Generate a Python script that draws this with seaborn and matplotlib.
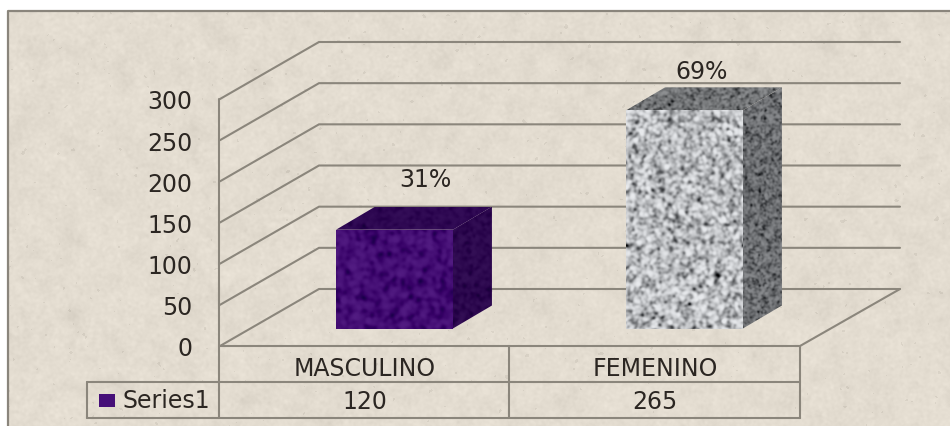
import numpy as np
import pandas as pd
import matplotlib
matplotlib.use("Agg")
import matplotlib.pyplot as plt
from matplotlib.patches import Polygon, Rectangle
from matplotlib.lines import Line2D
from matplotlib.transforms import IdentityTransform
import seaborn as sns

# Chart values
categories = ["MASCULINO", "FEMENINO"]
values = [120, 265]
percent_labels = ["31%", "69%"]
y_ticks = [0, 50, 100, 150, 200, 250, 300]
series_name = "Series1"

# Colours
PAPER = (228, 221, 209)
RULE = "#8b867c"
INK = "#2b2622"
PURPLE = "#460f78"

W, H, DPI = 950, 427, 100
sns.set_theme(style="white")
plt.rcParams["font.family"] = ["DejaVu Sans"]
rng = np.random.default_rng(11)


def smooth_noise(h, w, sigma):
    """Unit-variance gaussian-filtered noise, used for surface textures."""
    fy = np.fft.fftfreq(h)[:, None]
    fx = np.fft.fftfreq(w)[None, :]
    kernel = np.exp(-2 * (np.pi * sigma) ** 2 * (fx ** 2 + fy ** 2))
    n = np.fft.ifft2(np.fft.fft2(rng.standard_normal((h, w))) * kernel).real
    return n / n.std()


def shade(h, w, base, amp, sigma=1.5):
    n = smooth_noise(h, w, sigma)
    # A skewed response gives sparse dark flecks on a lighter ground
    n = (n - 0.16 * n ** 2)[..., None]
    return np.clip(np.array(base, float) + amp * n, 0, 255).astype(np.uint8)


fig = plt.figure(figsize=(W / DPI, H / DPI), dpi=DPI, facecolor="white")


def axes_at(left, bottom_from_top, width, height):
    return fig.add_axes([left / W, (H - bottom_from_top) / H, width / W, height / H])


# Paper background with a speckled surface
canvas = fig.add_axes([0, 0, 1, 1], zorder=0)
paper = shade(H, W, PAPER, 1.6, 6).astype(float)
paper = np.clip(paper + 1.8 * smooth_noise(H, W, 1.2)[..., None], 0, 255)
speck = smooth_noise(H, W, 1.3)
paper[speck > 2.6] -= 13
paper[:12, :] = 255
paper[:, :8] = 255
canvas.imshow(paper.astype(np.uint8), extent=(0, W, H, 0), aspect="auto", interpolation="bilinear")
canvas.set_xlim(0, W)
canvas.set_ylim(H, 0)
canvas.axis("off")
canvas.add_line(Line2D([8, 8, W], [H, 12, 12], color="#8a857c", lw=1.6))

# Wall axes carry the value scale and the category labels
wall = axes_at(220, 347, 580, 247)
wall.set_zorder(1)
wall.patch.set_alpha(0)
wall.set_xlim(-0.5, 1.5)
wall.set_ylim(0, 300)
wall.set_yticks(y_ticks, [str(t) for t in y_ticks], fontsize=17, color=INK)
wall.set_xticks(range(len(categories)), categories, fontsize=17, color=INK)
wall.tick_params(axis="y", length=0, pad=20)
wall.tick_params(axis="x", length=0, pad=7)
for side, spine in wall.spines.items():
    spine.set_visible(False)


def rule(xs, ys):
    canvas.add_line(Line2D(xs, ys, color=RULE, lw=1.5, solid_joinstyle="miter"))


# Gridlines run along the side wall and then across the back wall
WALL_DX, WALL_DY = 99, 57
for t in y_ticks:
    y = H - wall.transData.transform((0, t))[1]
    rule([220, 220 + WALL_DX, 900], [y, y - WALL_DY, y - WALL_DY])
y0 = H - wall.transData.transform((0, 0))[1]
y_top = H - wall.transData.transform((0, 300))[1]

# Floor edges and the data table below it
rule([219, 219], [y_top, 419])
rule([220, 800, 900], [y0, y0, y0 - WALL_DY])
rule([87, 800], [383, 383])
rule([87, 800], [419, 419])
rule([87, 87], [383, 419])
rule([509, 509], [y0, 419])
rule([800, 800], [y0, 419])

# Table contents
for x, v in zip([365, 655], values):
    canvas.text(x, 402, str(v), ha="center", va="center", fontsize=17, color=INK)
canvas.add_patch(Rectangle((99, 395), 16, 13, color=PURPLE, lw=0))
canvas.text(122, 401, series_name, ha="left", va="center", fontsize=17, color=INK)

# Bars stand part-way back on the floor
bars = axes_at(249.5, 329.5, 580, 247)
bars.set_zorder(2)
bars.patch.set_alpha(0)
table = pd.DataFrame({"sexo": categories, "n": values})
sns.barplot(data=table, x="sexo", y="n", hue="sexo", palette=[PURPLE, "#b4b6b9"],
            width=0.403, legend=False, ax=bars, saturation=1)
bars.set_xlim(-0.5, 1.5)
bars.set_ylim(0, 300)
bars.axis("off")

DEPTH_X, DEPTH_Y = 39, 23
identity = IdentityTransform()

looks = [
    {"front": ((68, 14, 116), 9, 2.0), "side": ((44, 8, 78), 5, 1.5), "top": ((46, 8, 82), 4, 1.5)},
    {"front": ((186, 188, 191), 30, 1.4), "side": ((108, 110, 113), 19, 1.0), "top": ((116, 118, 120), 17, 1.0)},
]


def textured_face(points, look):
    """Paint a noise texture clipped to a polygon given in display pixels."""
    pts = np.asarray(points)
    x0, y0_, x1, y1 = pts[:, 0].min(), pts[:, 1].min(), pts[:, 0].max(), pts[:, 1].max()
    base, amp, sigma = look
    tex = shade(int(y1 - y0_) + 2, int(x1 - x0) + 2, base, amp, sigma)
    im = bars.imshow(tex, extent=(x0, x1, y0_, y1), origin="lower", aspect="auto",
                     transform=identity, interpolation="bilinear", zorder=3)
    face = Polygon(pts, closed=True, transform=identity, facecolor="none", edgecolor="none")
    bars.add_patch(face)
    im.set_clip_path(face)


for patch, look, pct, dx, lift in zip(list(bars.patches), looks, percent_labels,
                                      [11, -2], [51, 39]):
    patch.set_edgecolor("none")
    (xl, yb), (xr, yt) = bars.transData.transform(
        [(patch.get_x(), 0), (patch.get_x() + patch.get_width(), patch.get_height())])
    textured_face([(xr, yb), (xr + DEPTH_X, yb + DEPTH_Y), (xr + DEPTH_X, yt + DEPTH_Y), (xr, yt)], look["side"])
    textured_face([(xl, yt), (xr, yt), (xr + DEPTH_X, yt + DEPTH_Y), (xl + DEPTH_X, yt + DEPTH_Y)], look["top"])
    textured_face([(xl, yb), (xr, yb), (xr, yt), (xl, yt)], look["front"])
    bars.annotate(pct, xy=(patch.get_x() + patch.get_width() / 2, patch.get_height()),
                  xytext=((DEPTH_X / 2 + dx) * 72 / DPI, lift * 72 / DPI), textcoords="offset points",
                  ha="center", va="center", fontsize=17, color=INK, annotation_clip=False)

bars.set_xlim(-0.5, 1.5)
bars.set_ylim(0, 300)

fig.savefig("out.png", dpi=DPI)
